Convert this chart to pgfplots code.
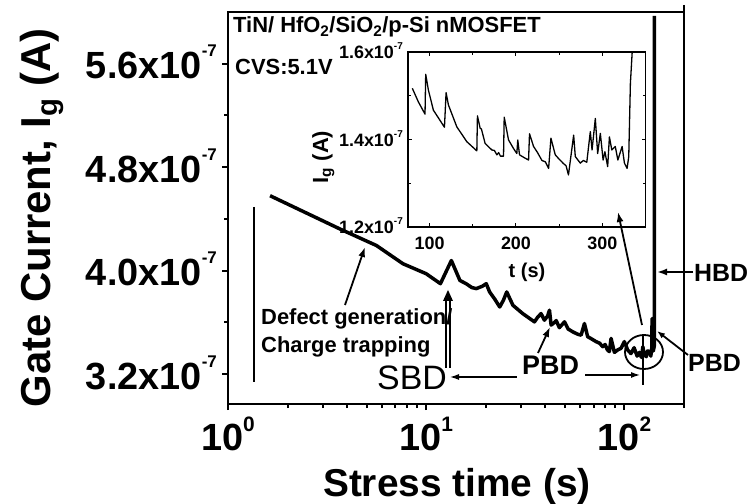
\documentclass[border=0pt]{standalone}
\usepackage{fontspec}
\setmainfont{Liberation Sans}
\usepackage{pgfplots}
\pgfplotsset{compat=1.18}
\usetikzlibrary{arrows.meta}
\newcommand\fs[1]{\fontsize{#1}{#1}\selectfont}
\newcommand\ysup{\raisebox{22bp}{\fs{17}-7}}
\newcommand\xsup[1]{\raisebox{19bp}{\fs{21}#1}}
\newcommand\isup{\raisebox{9bp}{\fs{10}-7}}
\begin{document}
\begin{tikzpicture}
\useasboundingbox (0,0) rectangle (750bp,504bp);
\begin{axis}[
  at={(228bp,100bp)}, anchor=south west,
  width=456bp, height=392bp, scale only axis,
  xmode=log, xmin=1, xmax=200, ymin=2.97, ymax=6.0,
  clip=true,
  axis line style={line width=2.5bp},
  tick pos=left, tick align=outside,
  xtick={1,10,100},
  xticklabels={10\xsup{0},10\xsup{1},10\xsup{2}},
  minor xtick={2,3,4,5,6,7,8,9,20,30,40,50,60,70,80,90,200},
  ytick={3.2,4.0,4.8,5.6},
  yticklabels={3.2x10\ysup,4.0x10\ysup,4.8x10\ysup,5.6x10\ysup},
  minor ytick={3.6,4.4,5.2},
  major tick length=6bp, minor tick length=4bp,
  tick style={line width=2bp, black},
  tick label style={font=\fs{38}\bfseries},
  xticklabel style={anchor=base, inner sep=0bp, yshift=-40bp},
  yticklabel style={anchor=base east, inner sep=0bp, xshift=-5bp, yshift=-15bp},
]
\addplot[line width=3.5bp, black, line join=round] coordinates {
(1.63,4.58) (3.67,4.323) (5.61,4.195) (7.64,4.054) (10.0,3.977) (11.8,3.90)
(13.4,4.079) (14.8,3.925) (15.9,3.90) (17.0,3.87) (17.9,3.862) (19.2,3.88)
(20.1,3.90) (20.9,3.836) (22.2,3.78) (23.5,3.72) (24.5,3.77) (25.5,3.836)
(27.4,3.733) (30.7,3.669) (33,3.635) (35.2,3.605) (36.5,3.64) (38.0,3.669)
(39.5,3.618) (41.0,3.65) (41.9,3.695) (42.7,3.58) (44.4,3.60) (45.3,3.615)
(47,3.56) (49.9,3.605) (52,3.55) (54.9,3.528) (58,3.51) (60.5,3.502)
(62.9,3.592) (65.3,3.49) (68,3.475) (72.0,3.452) (75,3.44) (77.8,3.413)
(80,3.43) (82,3.39) (84.0,3.375) (85.7,3.477) (89.1,3.369) (93,3.39)
(96.2,3.40) (100,3.452) (104,3.387) (108,3.36) (112,3.405) (116,3.34)
(119,3.369) (122,3.33) (124,3.413) (126,3.35) (129,3.336) (131,3.38)
(134,3.375) (136,3.34) (137.5,3.40) (138,3.63) (138.5,3.40) (140,3.38)
(141.7,3.42) (141.7,5.97)
};
\end{axis}
\begin{axis}[
  at={(408bp,277bp)}, anchor=south west,
  width=237.5bp, height=175bp, scale only axis,
  xmin=75, xmax=350, ymin=1.2, ymax=1.6,
  axis background/.style={fill=white},
  axis line style={line width=1.2bp},
  tick align=inside,
  xtick={100,200,300}, minor xtick={150,250},
  xticklabels={100,200,300},
  ytick={1.2,1.4,1.6}, minor ytick={1.3,1.5},
  yticklabels={1.2x10\isup,1.4x10\isup,1.6x10\isup},
  major tick length=4bp, minor tick length=3bp,
  tick style={line width=1bp, black},
  tick label style={font=\fs{18}\bfseries},
  yticklabel style={anchor=base east, inner sep=0bp, xshift=-5bp, yshift=-7bp},
  xticklabel style={anchor=base, inner sep=0bp, yshift=-23bp},
]
\addplot[line width=1.3bp, black, line join=round] coordinates {
(80,1.517) (87,1.486) (94.7,1.458) (95.5,1.549) (98.6,1.513) (104.4,1.467)
(110,1.45) (117.2,1.428) (119.1,1.507) (121.8,1.479) (131.5,1.429) (143.1,1.395)
(154.7,1.374) (155.4,1.454) (158.5,1.426) (160,1.424) (164.3,1.391) (172.1,1.376)
(175,1.375) (177.9,1.365) (180,1.370) (182,1.362) (185.6,1.362) (186.4,1.451)
(191.4,1.399) (197,1.380) (201,1.368) (202.1,1.399) (204.1,1.365) (210,1.358)
(214.6,1.353) (215.7,1.413) (220.4,1.384) (225,1.37) (230.1,1.352) (234,1.349)
(237.8,1.334) (240.5,1.403) (245.5,1.365) (250,1.355) (255,1.345) (258,1.34)
(260.8,1.319) (266.8,1.410) (268.7,1.361) (274.5,1.346) (278,1.352) (282,1.348)
(286.1,1.418) (288.1,1.376) (291.9,1.448) (294.6,1.368) (297.7,1.414) (300.9,1.353)
(303,1.372) (306.2,1.338) (308.2,1.406) (311,1.376) (315,1.384) (318,1.353)
(322.9,1.384) (325.6,1.346) (328.7,1.334) (330.6,1.361) (332.5,1.528) (334.5,1.597)
(335.5,1.62)
};
\end{axis}
\begin{scope}[x=1bp,y=-1bp,yshift=504bp]
% texts
\node[anchor=base west, inner sep=0, font=\fs{22}\bfseries] at (233,33) {TiN/ HfO\textsubscript{2}/SiO\textsubscript{2}/p-Si nMOSFET};
\node[anchor=base west, inner sep=0, font=\fs{22}\bfseries] at (235,75) {CVS:5.1V};
\node[anchor=base west, inner sep=0, font=\fs{22}\bfseries] at (261,325) {Defect generation/};
\node[anchor=base west, inner sep=0, font=\fs{22}\bfseries] at (261,353) {Charge trapping};
\node[anchor=base west, inner sep=0, font=\fs{34}] at (377,390) {SBD};
\node[anchor=base west, inner sep=0, font=\fs{27}\bfseries] at (522,375) {PBD};
\node[anchor=base west, inner sep=0, font=\fs{25}\bfseries] at (694,282) {HBD};
\node[anchor=base west, inner sep=0, font=\fs{25}\bfseries] at (688,372) {PBD};
\node[anchor=base, inner sep=0, font=\fs{39}\bfseries] at (457,497) {Stress time (s)};
\node[anchor=base, inner sep=0, rotate=90, font=\fs{42}\bfseries] at (50,218) {Gate Current, I\textsubscript{g} (A)};
\node[anchor=base, inner sep=0, rotate=90, font=\fs{22}\bfseries] at (328,157) {I\textsubscript{g} (A)};
\node[anchor=base, inner sep=0, font=\fs{20}\bfseries] at (527,278) {t (s)};
% annotation lines
\draw[line width=2.5bp] (684,5) -- (684,12);
\draw[line width=2.5bp] (254,207) -- (254,382);
\draw[line width=1.8bp, -{Latex[length=10bp,width=7bp]}] (345,305) -- (365,247);
\draw[line width=1.2bp] (446,368) -- (446,298);
\draw[line width=1.2bp] (450,368) -- (450,298);
\fill (443,301) -- (448,290) -- (453,301) -- cycle;
\draw[line width=1.2bp, {Latex[length=9bp,width=6bp]}-] (450,377) -- (517,377);
\draw[line width=1.2bp, -{Latex[length=9bp,width=6bp]}] (585,375) -- (640,375);
\draw[line width=1.8bp, -{Latex[length=10bp,width=7bp]}] (538,353) -- (550,327);
\draw[line width=1.8bp, -{Latex[length=10bp,width=7bp]}] (642,325) -- (618,212);
\draw[line width=1.8bp] (644,352) ellipse [x radius=19, y radius=17];
\draw[line width=1.8bp] (643,335) -- (643,385);
\draw[line width=1.8bp, -{Latex[length=10bp,width=7bp]}] (693,272) -- (657,272);
\draw[line width=1.8bp, -{Latex[length=8bp,width=6bp]}] (688,355) -- (657,331);
\end{scope}
\end{tikzpicture}
\end{document}
